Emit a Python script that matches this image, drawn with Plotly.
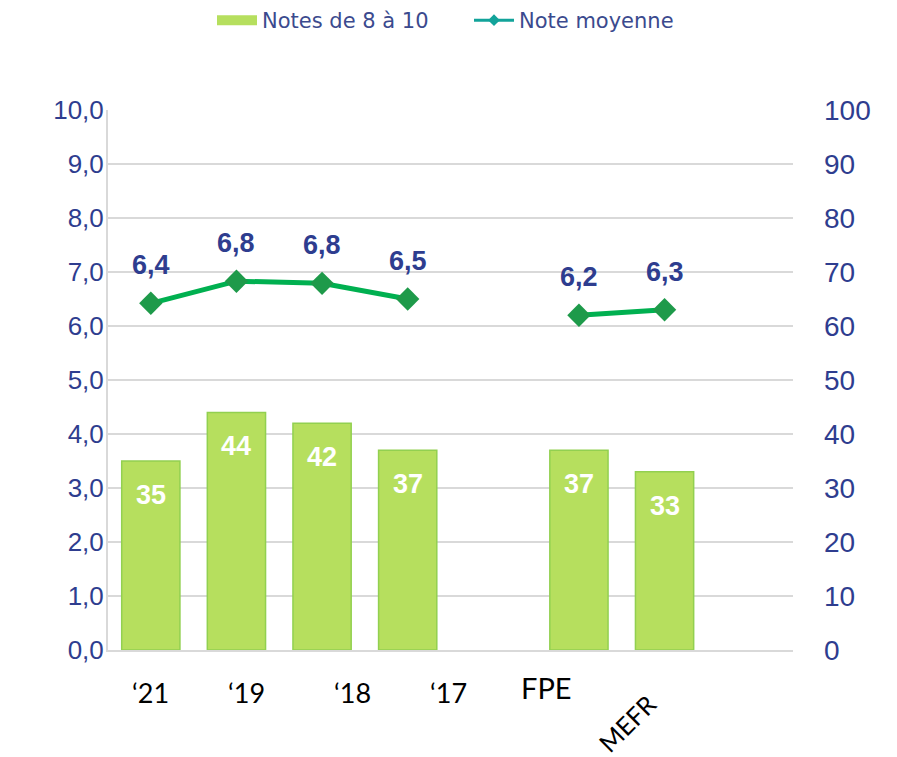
import plotly.graph_objects as go

# ---- data ----
slots = ["‘21", "‘19", "‘18", "‘17", None, "FPE", "MEFR", None]
bar_values = [35, 44, 42, 37, None, 37, 33, None]            # Notes de 8 à 10 (right axis, %)
mean_values = [6.42, 6.83, 6.79, 6.5, None, 6.2, 6.3, None]  # Note moyenne (left axis)
x_labels = ["‘21", "‘19", "‘18", "‘17", "FPE", "MEFR"]

# ---- style / layout helpers ----
label_x = [0.0, 1.12, 2.36, 3.48, 4.62, 5.56]
label_y = [-0.078, -0.078, -0.078, -0.078, -0.069, -0.135]
label_angle = [0, 0, 0, 0, 0, -45]
label_size = [27, 27, 27, 27, 29, 25]

BLUE = "#2E3D8F"
BAR = "#B6DF5E"
BAR_EDGE = "#92D050"
LINE = "#00B050"
MARK = "#1E9A4A"
GRID = "#D9D9D9"

xs = list(range(len(slots)))
bx = [x for x, v in zip(xs, bar_values) if v is not None]
bv = [v for v in bar_values if v is not None]

fig = go.Figure()
fig.add_trace(go.Bar(
    x=bx, y=bv, yaxis="y2", name="Notes de 8 à 10",
    marker=dict(color=BAR, line=dict(color=BAR_EDGE, width=1.5)),
    width=0.68, hoverinfo="skip", showlegend=False,
))
fig.add_trace(go.Scatter(
    x=xs, y=mean_values, mode="lines+markers", name="Note moyenne",
    line=dict(color=LINE, width=5), connectgaps=False,
    marker=dict(symbol="diamond", size=18, color=MARK),
    showlegend=False,
))
# legend-only entries
fig.add_trace(go.Scatter(
    x=[None], y=[None], mode="lines", name="Notes de 8 à 10",
    line=dict(color=BAR, width=11),
))
fig.add_trace(go.Scatter(
    x=[None], y=[None], mode="lines+markers", name="Note moyenne",
    line=dict(color="#12A39A", width=3),
    marker=dict(symbol="diamond", size=9, color="#12A39A"),
))

ann = []
for x, v in zip(bx, bv):
    ann.append(dict(x=x, y=v, xref="x", yref="y2", text=f"<b>{v}</b>",
                    showarrow=False, yshift=-34,
                    font=dict(color="white", size=27, family="Liberation Sans")))
for x, v in zip(xs, mean_values):
    if v is None:
        continue
    ann.append(dict(x=x, y=v, xref="x", yref="y", text=f"<b>{v:.1f}</b>".replace(".", ","),
                    showarrow=False, yshift=38,
                    font=dict(color=BLUE, size=27, family="Liberation Sans")))
for t, lx, ly, a, s in zip(x_labels, label_x, label_y, label_angle, label_size):
    ann.append(dict(x=lx, y=ly, xref="x", yref="paper", text=t, showarrow=False,
                    textangle=a, xanchor="center", yanchor="middle",
                    font=dict(color="black", size=s, family="Lato")))

fig.update_layout(
    width=897, height=757,
    margin=dict(l=108, r=104, t=110, b=107),
    paper_bgcolor="white", plot_bgcolor="white",
    separators=", ",
    bargap=0.32,
    xaxis=dict(range=[-0.5, 7.5], showticklabels=False, ticks="", showgrid=False,
               zeroline=False, showline=True, linecolor=GRID, linewidth=2),
    yaxis=dict(range=[0, 10], dtick=1, tickformat=".1f", showgrid=True, gridcolor=GRID,
               gridwidth=2, zeroline=False, showline=True, linecolor=GRID, linewidth=2,
               ticks="", ticklabelstandoff=-3,
               tickfont=dict(color=BLUE, size=26, family="Liberation Sans")),
    yaxis2=dict(range=[0, 100], dtick=10, overlaying="y", side="right", showgrid=False,
                zeroline=False, showline=False, ticks="", ticklabelstandoff=30,
                tickfont=dict(color=BLUE, size=28, family="Liberation Sans")),
    legend=dict(orientation="h", xref="container", x=212 / 897, xanchor="left",
                y=1.0, yref="container", yanchor="top",
                font=dict(color="#3B4A8E", size=21, family="DejaVu Sans"),
                itemwidth=40, entrywidth=202, tracegroupgap=0),
    annotations=ann,
)

fig.write_html("out.html", config={"displayModeBar": False},
               post_script="document.body.style.margin='0';")
